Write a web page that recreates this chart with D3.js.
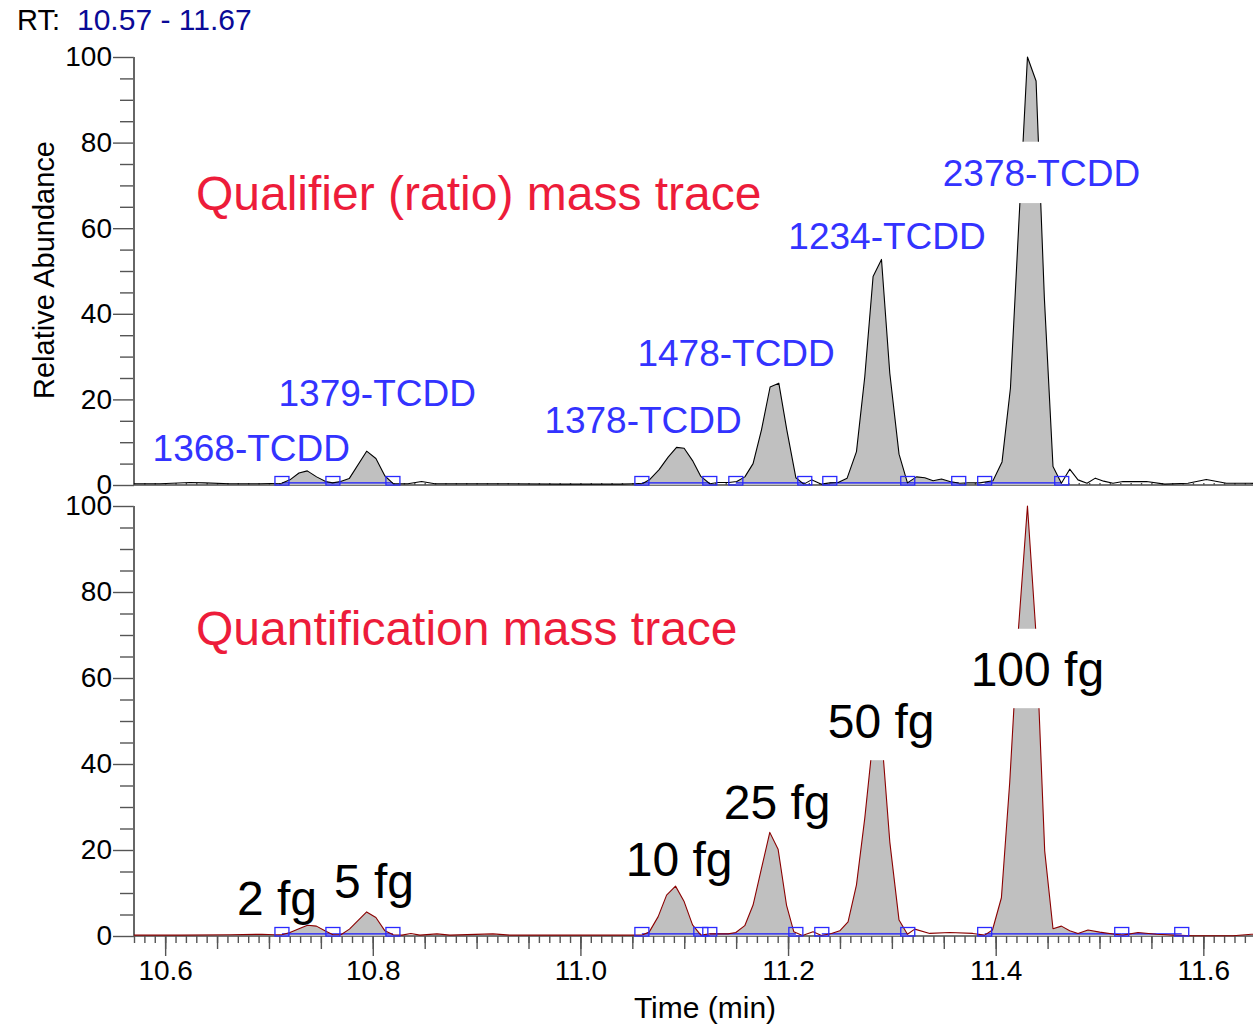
<!DOCTYPE html>
<html>
<head>
<meta charset="utf-8">
<script src="https://cdn.jsdelivr.net/npm/d3@7"></script>
<style>
  body { margin: 0; background: #fff; }
  svg text { font-family: Arial, "Liberation Sans", sans-serif; }
</style>
</head>
<body>
<div class="canvas"></div>
<script>
// retention time window (min)
const rtRange = [10.57, 11.67];
const xTicks = [10.6, 10.8, 11.0, 11.2, 11.4, 11.6];
const yTicks = [0, 20, 40, 60, 80, 100];

// qualifier (ratio) mass trace, relative abundance %
const topTime = [10.570, 10.595, 10.624, 10.638, 10.662, 10.691, 10.7122, 10.7202, 10.7289, 10.7369,
  10.7459, 10.7546, 10.7613, 10.7690, 10.7773, 10.7941, 10.8030, 10.8117, 10.8197, 10.8338,
  10.8470, 10.8598, 10.9224, 10.9802, 11.0380, 11.0518, 11.0604, 11.0669, 11.0758, 11.0845,
  11.0926, 11.0999, 11.1080, 11.1160, 11.1246, 11.1326, 11.1432, 11.1506, 11.1584, 11.1663,
  11.1744, 11.1827, 11.1911, 11.1988, 11.2075, 11.2152, 11.2226, 11.2322, 11.2402, 11.2482,
  11.2569, 11.2659, 11.2739, 11.2819, 11.2900, 11.2980, 11.3069, 11.3150, 11.3237, 11.3317,
  11.3397, 11.3478, 11.3558, 11.3654, 11.3734, 11.3846, 11.3974, 11.4061, 11.4142, 11.4224,
  11.4306, 11.4389, 11.4469, 11.4552, 11.4633, 11.4713, 11.4793, 11.4880, 11.4960, 11.5040,
  11.5130, 11.5226, 11.5452, 11.5628, 11.5852, 11.6029, 11.6222, 11.6446, 11.670];
const topValue = [0.3, 0.3, 0.6, 0.5, 0.3, 0.3, 0.4, 1.2, 2.8, 3.3,
  1.9, 0.8, 0.5, 0.8, 1.5, 7.9, 6.2, 2.1, 0.3, 0.3,
  0.8, 0.3, 0.3, 0.2, 0.2, 0.3, 0.4, 1.3, 3.6, 6.5,
  8.8, 8.6, 5.7, 2.0, 0.3, 0.6, 0.6, 0.8, 1.9, 5.0,
  12.9, 22.9, 23.8, 12.9, 1.7, 0.2, 1.2, 0.2, 0.5, 0.6,
  1.6, 7.8, 25.3, 48.7, 52.7, 26.1, 7.2, 0.5, 1.9, 1.7,
  1.0, 1.4, 0.8, 0.4, 0.5, 0.5, 1.0, 5.4, 22.6, 61.7,
  100, 94.4, 43.6, 4.3, 0.4, 3.7, 1.2, 0.4, 1.6, 0.9,
  0.4, 0.8, 0.8, 0.2, 0.4, 1.3, 0.4, 0.4, 0.3];

// quantification mass trace, relative abundance %
const bottomTime = [10.570, 10.6143, 10.6624, 10.6933, 10.7053, 10.7125, 10.7202, 10.7289, 10.7371, 10.7457,
  10.7539, 10.7616, 10.7693, 10.7775, 10.7941, 10.8030, 10.8117, 10.8197, 10.8281, 10.8367,
  10.8454, 10.8618, 10.8743, 10.9157, 10.9321, 10.9802, 11.0380, 11.0589, 11.0662, 11.0749,
  11.0830, 11.0916, 11.0999, 11.1080, 11.1160, 11.1246, 11.1349, 11.1423, 11.1497, 11.1583,
  11.1663, 11.1744, 11.1824, 11.1904, 11.1985, 11.2055, 11.2139, 11.2241, 11.2322, 11.2418,
  11.2498, 11.2578, 11.2659, 11.2739, 11.2819, 11.2900, 11.2980, 11.3069, 11.3150, 11.3220,
  11.3365, 11.3558, 11.3779, 11.3894, 11.3969, 11.4055, 11.4135, 11.4215, 11.4306, 11.4389,
  11.4472, 11.4552, 11.4633, 11.4713, 11.4793, 11.4889, 11.5002, 11.5146, 11.5226, 11.5371,
  11.5548, 11.5708, 11.5900, 11.6286, 11.6463, 11.670];
const bottomValue = [0.2, 0.2, 0.3, 0.4, 0.3, 0.3, 0.8, 1.7, 2.5, 2.3,
  1.2, 0.3, 0.3, 1.6, 5.6, 4.3, 1.2, 0.3, 0.2, 0.6,
  0.2, 0.5, 0.2, 0.5, 0.2, 0.2, 0.2, 0.2, 0.9, 4.5,
  9.5, 11.6, 8.0, 2.6, 0.2, 0.5, 0.5, 0.5, 0.8, 2.4,
  7.2, 15.7, 24.1, 20.2, 7.2, 1.0, 0.1, 1.0, 0.1, 0.6,
  1.2, 3.3, 11.9, 27.4, 46, 47, 21.9, 3.7, 0.4, 1.6,
  0.6, 0.8, 0.6, 0.2, 1.4, 8.9, 35.7, 70, 100, 70,
  19.8, 1.7, 2.3, 1.2, 0.6, 1.4, 0.9, 0.4, 0.2, 0.8,
  0.4, 0.2, 0.05, 0.05, 0.4, 0.3];

// integrated peak windows [start, end] (min)
const topPeaks = [[10.7125, 10.7616], [10.7616, 10.8194], [11.0592, 11.1246], [11.1497, 11.2161],
  [11.2402, 11.3153], [11.3153, 11.3644], [11.3894, 11.4636]];
const bottomPeaks = [[10.7125, 10.7616], [10.7616, 10.8194], [11.0592, 11.1160], [11.1246, 11.2075],
  [11.2325, 11.3153], [11.3894, 11.5214], [11.5214, 11.5792]];

// annotations anchored in data units [time, abundance]
const isomerLabels = [
  { text: '1368-TCDD', t: 10.5879, v: 5.6 },
  { text: '1379-TCDD', t: 10.7092, v: 18.5 },
  { text: '1378-TCDD', t: 10.9653, v: 12.1 },
  { text: '1478-TCDD', t: 11.0549, v: 27.8 },
  { text: '1234-TCDD', t: 11.2003, v: 55.1 },
  { text: '2378-TCDD', t: 11.3490, v: 69.9 }
];
const amountLabels = [
  { text: '2 fg', t: 10.6692, v: 4.9 },
  { text: '5 fg', t: 10.7626, v: 8.8 },
  { text: '10 fg', t: 11.0437, v: 14.0 },
  { text: '25 fg', t: 11.1381, v: 27.2 },
  { text: '50 fg', t: 11.2382, v: 46.0 },
  { text: '100 fg', t: 11.3759, v: 58.1 }
];
const boxedLabels = ['2378-TCDD', '50 fg', '100 fg'];

const svg = d3.select('.canvas')
    .append('svg')
    .attr('width', 1253)
    .attr('height', 1024);

// scales
const x = d3.scaleLinear().domain(rtRange).range([134, 1276]);
const yTop = d3.scaleLinear().domain([0, 100]).range([485, 57]);
const yBot = d3.scaleLinear().domain([0, 100]).range([936, 506]);

const styleAxis = g => {
    g.select('.domain').remove();
    g.selectAll('.tick line').attr('stroke', '#555').attr('stroke-width', 1.4);
    g.selectAll('.tick text').attr('fill', '#000').attr('font-size', 28)
        .attr('font-family', 'Arial, "Liberation Sans", sans-serif');
};

// y axes for both panels
[yTop, yBot].forEach(y => {
    svg.append('g').attr('transform', 'translate(134,0)')
        .call(d3.axisLeft(y).tickValues(d3.range(0, 101, 5).filter(d => d % 20)).tickSize(14).tickFormat(''))
        .call(styleAxis);
    svg.append('g').attr('transform', 'translate(134,0)')
        .call(d3.axisLeft(y).tickValues(yTicks).tickSize(21).tickPadding(1).tickFormat(d3.format('d')))
        .call(styleAxis);
    svg.append('line')
        .attr('x1', 134).attr('x2', 134)
        .attr('y1', y(0)).attr('y2', y(100))
        .attr('stroke', '#666').attr('stroke-width', 2);
    svg.append('line')
        .attr('x1', 134).attr('x2', 1253)
        .attr('y1', y(0)).attr('y2', y(0))
        .attr('stroke', '#777').attr('stroke-width', 2);
});

// x axis ticks
const minorTicks = d3.range(1057, 1168).map(d => d / 100);
const midTicks = d3.range(212, 234).map(d => d / 20);

svg.append('g').attr('transform', `translate(0,${yTop(0)})`)
    .call(d3.axisTop(x).tickValues(minorTicks).tickSize(2).tickFormat(''))
    .call(styleAxis);

svg.append('g').attr('transform', `translate(0,${yBot(0)})`)
    .call(d3.axisBottom(x).tickValues(minorTicks).tickSize(7).tickFormat(''))
    .call(styleAxis);
svg.append('g').attr('transform', `translate(0,${yBot(0)})`)
    .call(d3.axisBottom(x).tickValues(midTicks).tickSize(13).tickFormat(''))
    .call(styleAxis);
svg.append('g').attr('transform', `translate(0,${yBot(0)})`)
    .call(d3.axisBottom(x).tickValues(xTicks).tickSize(20).tickPadding(4).tickFormat(d3.format('.1f')))
    .call(styleAxis);

// traces
const drawTrace = (times, values, peaks, y, color, id) => {
    const data = d3.zip(times, values);

    const clip = svg.append('clipPath').attr('id', id);
    clip.selectAll('rect')
        .data(peaks)
        .enter().append('rect')
        .attr('x', d => x(d[0]))
        .attr('width', d => x(d[1]) - x(d[0]))
        .attr('y', y(100) - 10)
        .attr('height', y(0) - y(100) + 10);

    const area = d3.area()
        .x(d => x(d[0]))
        .y0(y(0))
        .y1(d => y(d[1]));

    svg.append('path')
        .datum(data)
        .attr('d', area)
        .attr('fill', '#c0c0c0')
        .attr('clip-path', `url(#${id})`);

    // peak baselines
    svg.selectAll(null)
        .data(peaks)
        .enter().append('line')
        .attr('x1', d => x(d[0]))
        .attr('x2', d => x(d[1]))
        .attr('y1', y(0.5)).attr('y2', y(0.5))
        .attr('stroke', '#1a1aff').attr('stroke-width', 1.2);

    const line = d3.line()
        .x(d => x(d[0]))
        .y(d => y(d[1]));

    svg.append('path')
        .datum(data)
        .attr('d', line)
        .attr('fill', 'none')
        .attr('stroke', color)
        .attr('stroke-width', 1.1)
        .attr('stroke-linejoin', 'round');

    // peak boundary markers
    const bounds = Array.from(new Set(peaks.flat()));
    svg.selectAll(null)
        .data(bounds)
        .enter().append('rect')
        .attr('x', d => x(d) - 7)
        .attr('y', y(0) - 8.5)
        .attr('width', 14)
        .attr('height', 8.5)
        .attr('fill', 'none')
        .attr('stroke', '#2a2aff')
        .attr('stroke-width', 1.3);
};

drawTrace(topTime, topValue, topPeaks, yTop, '#000', 'clipTop');
drawTrace(bottomTime, bottomValue, bottomPeaks, yBot, '#8b0000', 'clipBot');

// annotations
const addLabels = (labels, y, size, color) => {
    labels.forEach(d => {
        const t = svg.append('text')
            .attr('x', x(d.t))
            .attr('y', y(d.v))
            .attr('font-size', size)
            .attr('fill', color)
            .text(d.text);
        if (boxedLabels.includes(d.text)) {
            const b = t.node().getBBox();
            svg.insert('rect', () => t.node())
                .attr('x', b.x - 4)
                .attr('y', b.y - size * 0.3)
                .attr('width', b.width + 8)
                .attr('height', b.height + size * 0.55)
                .attr('fill', '#fff');
        }
    });
};

addLabels(isomerLabels, yTop, 37, '#3333ff');
addLabels(amountLabels, yBot, 48, '#000');

svg.append('text')
    .attr('x', x(10.6297)).attr('y', yTop(64.3))
    .attr('font-size', 48).attr('fill', '#ed1c3a')
    .text('Qualifier (ratio) mass trace');
svg.append('text')
    .attr('x', x(10.6297)).attr('y', yBot(67.7))
    .attr('font-size', 48).attr('fill', '#ed1c3a')
    .text('Quantification mass trace');

// header and axis titles
svg.append('text')
    .attr('x', 17).attr('y', 30)
    .attr('font-size', 29).attr('fill', '#000')
    .text('RT:');
svg.append('text')
    .attr('x', 77).attr('y', 30)
    .attr('font-size', 30).attr('fill', '#0a0a96')
    .text(`${rtRange[0].toFixed(2)} - ${rtRange[1].toFixed(2)}`);

svg.append('text')
    .attr('transform', 'translate(54,270) rotate(-90)')
    .attr('text-anchor', 'middle')
    .attr('font-size', 29)
    .text('Relative Abundance');

svg.append('text')
    .attr('x', 705).attr('y', 1018)
    .attr('text-anchor', 'middle')
    .attr('font-size', 30)
    .text('Time (min)');
</script>
</body>
</html>
